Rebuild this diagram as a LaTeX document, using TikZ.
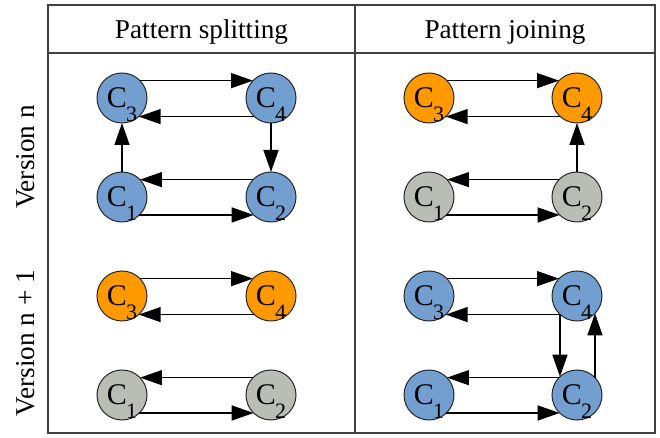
\documentclass[tikz,border=0pt]{standalone}
\usepackage{fontspec}
\setmainfont{Liberation Serif}
\usetikzlibrary{arrows.meta}

\definecolor{cblue}{HTML}{729FCF}
\definecolor{corange}{HTML}{FF9900}
\definecolor{cgray}{HTML}{BABDB6}

\newcommand{\cname}[1]{C\kern-0.5pt\smash{\raisebox{-7pt}{\fontsize{11}{11}\selectfont #1}}}

\tikzset{
  comp/.style={circle, draw=black!85, line width=0.5pt, minimum size=25pt,
    inner sep=0pt, outer sep=0pt, font=\fontsize{15}{16}\selectfont},
  active/.style={comp, fill=cblue},
  moved/.style={comp, fill=corange},
  idle/.style={comp, fill=cgray},
  link/.style={line width=0.75pt, -{Triangle[length=11pt,width=7.5pt]}},
  heading/.style={font=\fontsize{13.6}{16}\selectfont},
  frame/.style={draw=black!75, line width=1pt}
}

\begin{document}
\begin{tikzpicture}[x=0.5pt,y=-0.5pt]
    \useasboundingbox (0,0) rectangle (660,438);
    % table
    \draw[frame] (48,5) rectangle (655,433);
    \draw[frame] (48,53) -- (655,53);
    \draw[frame] (355,5) -- (355,433);
    \node[heading, anchor=base] (hsplit) at (201.5,39) {Pattern splitting};
    \node[heading, anchor=base] (hjoin) at (505,39) {Pattern joining};
    \node[heading, rotate=90] (vn) at (26,157) {Version n};
    \node[heading, rotate=90] (vnext) at (26,343) {Version n + 1};

    % splitting, version n
    \node[active] (sa3) at (122,98) {\cname{3}};
    \node[active] (sa4) at (271,98) {\cname{4}};
    \node[active] (sa1) at (122,197) {\cname{1}};
    \node[active] (sa2) at (271,197) {\cname{2}};
    \draw[link] (sa3.44) -- (sa4.136);
    \draw[link] (sa4.-132) -- (sa3.-48);
    \draw[link] (sa2.136) -- (sa1.44);
    \draw[link] (sa1.-46) -- (sa2.-134);
    \draw[link] (sa1) -- (sa3);
    \draw[link] (sa4) -- (sa2);

    % splitting, version n + 1
    \node[moved] (sb3) at (122,296) {\cname{3}};
    \node[moved] (sb4) at (271,296) {\cname{4}};
    \node[idle] (sb1) at (122,395) {\cname{1}};
    \node[idle] (sb2) at (271,395) {\cname{2}};
    \draw[link] (sb3.44) -- (sb4.136);
    \draw[link] (sb4.-132) -- (sb3.-48);
    \draw[link] (sb2.136) -- (sb1.44);
    \draw[link] (sb1.-46) -- (sb2.-134);

    % joining, version n
    \node[moved] (ja3) at (429,98) {\cname{3}};
    \node[moved] (ja4) at (577,98) {\cname{4}};
    \node[idle] (ja1) at (429,197) {\cname{1}};
    \node[idle] (ja2) at (577,197) {\cname{2}};
    \draw[link] (ja3.44) -- (ja4.136);
    \draw[link] (ja4.-132) -- (ja3.-48);
    \draw[link] (ja2.136) -- (ja1.44);
    \draw[link] (ja1.-46) -- (ja2.-134);
    \draw[link] (ja2) -- (ja4);

    % joining, version n + 1
    \node[active] (jb3) at (429,296) {\cname{3}};
    \node[active] (jb4) at (577,296) {\cname{4}};
    \node[active] (jb1) at (429,395) {\cname{1}};
    \node[active] (jb2) at (577,395) {\cname{2}};
    \draw[link] (jb3.44) -- (jb4.136);
    \draw[link] (jb4.-132) -- (jb3.-48);
    \draw[link] (jb2.136) -- (jb1.44);
    \draw[link] (jb1.-46) -- (jb2.-134);
    \draw[link] (jb4.-133) -- (jb2.133);
    \draw[link] (jb2.44) -- (jb4.-44);
\end{tikzpicture}
\end{document}
